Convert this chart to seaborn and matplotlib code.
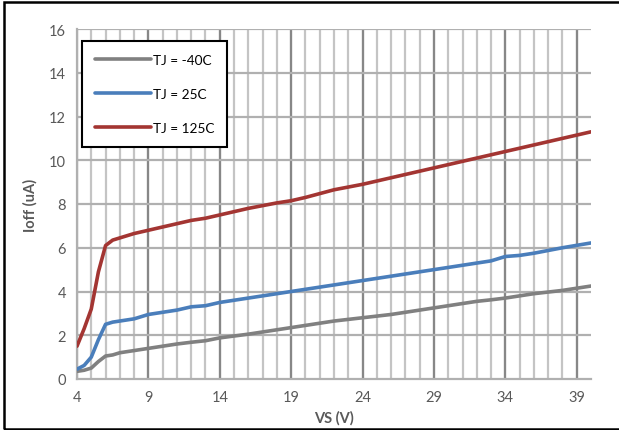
import matplotlib
matplotlib.use("Agg")
import matplotlib.pyplot as plt
import seaborn as sns
import pandas as pd
import numpy as np
from matplotlib.patches import Rectangle

vs = [4, 4.5, 5, 5.5, 6, 6.5, 7, 8, 9, 10, 11, 12, 13, 14, 16, 18, 19, 20, 22, 24, 26, 28, 29, 30, 32, 33, 34, 35, 36, 38, 40]
tj_m40 = [0.35, 0.4, 0.5, 0.8, 1.05, 1.1, 1.2, 1.3, 1.4, 1.5, 1.6, 1.68, 1.75, 1.88, 2.05, 2.25, 2.35, 2.45, 2.65, 2.8, 2.95, 3.15, 3.25, 3.35, 3.55, 3.62, 3.7, 3.8, 3.9, 4.05, 4.25]
tj_25 = [0.45, 0.62, 1.0, 1.8, 2.5, 2.6, 2.65, 2.75, 2.95, 3.05, 3.15, 3.3, 3.35, 3.5, 3.7, 3.9, 4.0, 4.1, 4.3, 4.5, 4.7, 4.9, 5.0, 5.1, 5.3, 5.4, 5.6, 5.65, 5.75, 6.0, 6.22]
tj_125 = [1.5, 2.3, 3.2, 4.9, 6.1, 6.35, 6.45, 6.65, 6.8, 6.95, 7.1, 7.25, 7.35, 7.5, 7.8, 8.05, 8.15, 8.3, 8.65, 8.9, 9.2, 9.5, 9.65, 9.8, 10.1, 10.25, 10.4, 10.55, 10.7, 11.0, 11.3]
series_names = ["TJ = -40C", "TJ = 25C", "TJ = 125C"]
colors = ["#808080", "#4A7EBB", "#A33532"]
x_ticks = [4, 9, 14, 19, 24, 29, 34, 39]
y_ticks = [0, 2, 4, 6, 8, 10, 12, 14, 16]

df = pd.DataFrame({"VS": vs * 3,
                   "Ioff": tj_m40 + tj_25 + tj_125,
                   "Series": [series_names[0]] * len(vs) + [series_names[1]] * len(vs) + [series_names[2]] * len(vs)})

sns.set_style("white")
plt.rcParams["font.family"] = ["Lato", "DejaVu Sans"]

fig = plt.figure(figsize=(6.19, 4.31), dpi=100)
ax = fig.add_axes([77/619, 1-380/431, (591-77)/619, (380-30)/431])

# grid
for xv in range(5, 40):
    ax.axvline(xv, color="#c4c4c4", lw=1.6, zorder=0)
for xv in x_ticks:
    ax.axvline(xv, color="#878787", lw=1.6, zorder=0)
for yv in y_ticks[1:]:
    ax.axhline(yv, color="#b0b0b0", lw=1.6, zorder=0)

sns.lineplot(data=df, x="VS", y="Ioff", hue="Series", palette=colors, lw=2.6, ax=ax, zorder=3)

ax.set_xlim(4, 40)
ax.set_ylim(0, 16)
ax.set_xticks(x_ticks)
ax.set_yticks(y_ticks)
ax.tick_params(axis="both", labelsize=10.5, colors="#595959", length=0, pad=8)
ax.tick_params(axis="y", length=4, color="#a0a0a0", width=1, pad=4)
for sp in ["top", "right"]:
    ax.spines[sp].set_visible(False)
for sp in ["left", "bottom"]:
    ax.spines[sp].set_color("#b0b0b0")
    ax.spines[sp].set_linewidth(1.6)
ax.set_xlabel("VS (V)", fontsize=10.5, fontweight="bold", color="#595959", labelpad=4)
ax.set_ylabel("Ioff (uA)", fontsize=10.5, fontweight="bold", color="#595959", labelpad=8)

leg = ax.legend(loc="upper left", bbox_to_anchor=(0.01, 0.965), frameon=True, fancybox=False,
                edgecolor="black", fontsize=9.8, handlelength=4.1, labelspacing=1.6,
                borderpad=0.95, handletextpad=0.12, borderaxespad=0)
leg.get_frame().set_linewidth(1.5)
leg.get_frame().set_facecolor("white")
leg.get_frame().set_alpha(1)
for t in leg.get_texts():
    t.set_color("black")

fig.patches.append(Rectangle((4/619, 1-429.5/431), 1.2, (429.5-3)/431, transform=fig.transFigure,
                             fill=False, edgecolor="black", lw=1.8))

fig.savefig("out.png", dpi=100)
